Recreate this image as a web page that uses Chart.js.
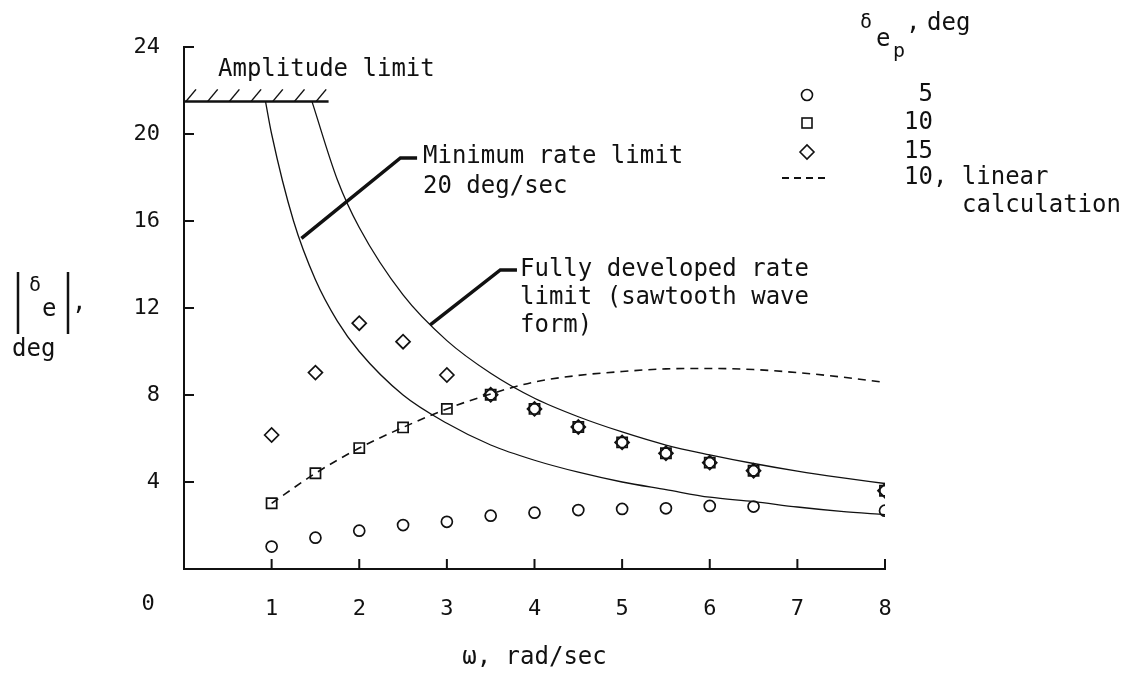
<!DOCTYPE html>
<html><head><meta charset="utf-8">
<script src="https://cdn.jsdelivr.net/npm/chart.js@4.4.0/dist/chart.umd.min.js"></script>
<style>html,body{margin:0;padding:0;background:#fff}#wrap{width:1138px;height:679px}</style>
</head><body><div id="wrap"><canvas id="c" width="1138" height="679"></canvas></div>
<script>
// ---- data ----
const omega   = [1, 1.5, 2, 2.5, 3, 3.5, 4, 4.5, 5, 5.5, 6, 6.5, 8];
const amp5    = [1.03, 1.44, 1.76, 2.02, 2.17, 2.45, 2.59, 2.71, 2.76, 2.79, 2.9, 2.87, 2.68];
const amp10   = [3.02, 4.4, 5.56, 6.51, 7.36, 8.01, 7.36, 6.53, 5.82, 5.32, 4.89, 4.52, 3.6];
const amp15   = [6.16, 9.03, 11.3, 10.45, 8.92, 8.01, 7.36, 6.53, 5.82, 5.32, 4.89, 4.52, 3.6];
const linOmega = [1, 1.5, 2, 2.5, 3, 3.5, 4, 4.5, 5, 5.5, 6, 6.5, 7, 7.5, 8];
const lin10    = [3.02, 4.4, 5.56, 6.51, 7.36, 8.05, 8.6, 8.9, 9.08, 9.2, 9.22, 9.17, 9.03, 8.83, 8.58];
const minRateOmega = [0.93, 1.0, 1.25, 1.5, 1.75, 2.0, 2.5, 3.0, 3.5, 4.0, 4.5, 5.0, 5.5, 6.0, 6.5, 7.0, 7.5, 8.0];
const minRate      = [21.5, 20.0, 16.0, 13.3, 11.4, 10.0, 8.0, 6.7, 5.7, 5.0, 4.45, 4.0, 3.65, 3.3, 3.1, 2.85, 2.65, 2.5];
const fullRateOmega = [1.46, 1.75, 2.0, 2.5, 3.0, 3.5, 4.0, 4.5, 5.0, 5.5, 6.0, 6.5, 7.0, 7.5, 8.0];
const fullRate      = [21.5, 17.9, 15.7, 12.6, 10.5, 9.0, 7.85, 7.0, 6.3, 5.7, 5.25, 4.85, 4.5, 4.2, 3.93];
const ampLimitOmega = [0, 1.65];
const ampLimit      = [21.5, 21.5];
const leaderMinOmega  = [1.34, 2.47, 2.66];
const leaderMin       = [15.2, 18.9, 18.9];
const leaderFullOmega = [2.81, 3.61, 3.8];
const leaderFull      = [11.22, 13.75, 13.75];
const xTicks = [1, 2, 3, 4, 5, 6, 7, 8];
const yTicks = [4, 8, 12, 16, 20, 24];
const seriesLabels = ['5', '10', '15', '10, linear'];

const INK = '#111';
const MONO = '"DejaVu Sans Mono", "Liberation Mono", monospace';
const pts = (xs, ys) => xs.map((x, i) => ({x, y: ys[i]}));

const lineDs = (data, width, extra) => Object.assign({
  type: 'line', data, borderColor: INK, borderWidth: width, pointRadius: 0,
  fill: false, showLine: true, cubicInterpolationMode: 'monotone'
}, extra || {});

const markerDs = (data, style, r) => ({
  type: 'scatter', data, pointStyle: style, pointRadius: r,
  pointBorderColor: INK, pointBackgroundColor: 'rgba(0,0,0,0)', pointBorderWidth: 1.7,
  showLine: false
});

const decor = {
  id: 'decor',
  afterDatasetsDraw(chart) {
    const ctx = chart.ctx, xs = chart.scales.x, ys = chart.scales.y;
    const x0 = xs.getPixelForValue(0), y0 = ys.getPixelForValue(0);
    ctx.save();
    ctx.strokeStyle = INK; ctx.fillStyle = INK; ctx.lineCap = 'butt';
    // inward tick marks
    ctx.lineWidth = 2;
    yTicks.forEach(v => {
      const y = ys.getPixelForValue(v);
      ctx.beginPath(); ctx.moveTo(x0, y); ctx.lineTo(x0 + 10, y); ctx.stroke();
    });
    xTicks.forEach(v => {
      const x = xs.getPixelForValue(v);
      ctx.beginPath(); ctx.moveTo(x, y0); ctx.lineTo(x, y0 - 10); ctx.stroke();
    });
    // hatch on amplitude limit
    const ya = ys.getPixelForValue(ampLimit[0]);
    ctx.lineWidth = 1.5;
    for (let i = 0; i < 7; i++) {
      const hx = x0 + 2 + i * 21.7;
      ctx.beginPath(); ctx.moveTo(hx, ya); ctx.lineTo(hx + 10, ya - 12); ctx.stroke();
    }
    // texts
    ctx.textBaseline = 'middle'; ctx.textAlign = 'left';
    ctx.font = '24px ' + MONO;
    ctx.fillText('Amplitude limit', 218, 70);
    ctx.fillText('Minimum rate limit', 423, 157);
    ctx.fillText('20 deg/sec', 423, 187);
    ctx.fillText('Fully developed rate', 520, 270);
    ctx.fillText('limit (sawtooth wave', 520, 298);
    ctx.fillText('form)', 520, 326);
    // origin label
    ctx.font = '22px ' + MONO; ctx.textAlign = 'center';
    ctx.fillText('0', 148, 604);
    // y axis title |δe|, deg
    ctx.lineWidth = 2.5;
    ctx.beginPath(); ctx.moveTo(18, 272); ctx.lineTo(18, 334); ctx.stroke();
    ctx.beginPath(); ctx.moveTo(68, 272); ctx.lineTo(68, 334); ctx.stroke();
    ctx.textAlign = 'left';
    ctx.font = '20px ' + MONO; ctx.fillText('δ', 29, 286);
    ctx.font = '24px ' + MONO; ctx.fillText('e', 42, 310);
    ctx.fillText(',', 72, 304);
    ctx.fillText('deg', 12, 350);
    // legend title
    ctx.font = '20px ' + MONO; ctx.fillText('δ', 860, 23);
    ctx.font = '24px ' + MONO; ctx.fillText('e', 876, 40);
    ctx.font = '20px ' + MONO; ctx.fillText('p', 893, 52);
    ctx.font = '24px ' + MONO; ctx.fillText(',', 906, 24); ctx.fillText('deg', 927, 24);
    // legend entries
    const lx = 807, rows = [95, 123, 152, 178];
    ctx.lineWidth = 1.6;
    ctx.beginPath(); ctx.arc(lx, rows[0], 5.5, 0, Math.PI * 2); ctx.stroke();
    ctx.strokeRect(lx - 5, rows[1] - 5, 10, 10);
    ctx.beginPath(); ctx.moveTo(lx - 7, rows[2]); ctx.lineTo(lx, rows[2] - 7); ctx.lineTo(lx + 7, rows[2]); ctx.lineTo(lx, rows[2] + 7); ctx.closePath(); ctx.stroke();
    ctx.setLineDash([7, 5]); ctx.lineWidth = 1.8;
    ctx.beginPath(); ctx.moveTo(782, rows[3]); ctx.lineTo(830, rows[3]); ctx.stroke();
    ctx.setLineDash([]);
    ctx.font = '24px ' + MONO;
    ctx.textAlign = 'right';
    ctx.fillText(seriesLabels[0], 933, rows[0]);
    ctx.fillText(seriesLabels[1], 933, rows[1]);
    ctx.fillText(seriesLabels[2], 933, rows[2]);
    ctx.textAlign = 'left';
    ctx.fillText(seriesLabels[3], 904, rows[3]);
    ctx.fillText('calculation', 962, rows[3] + 28);
    ctx.restore();
  }
};

new Chart(document.getElementById('c'), {
  type: 'scatter',
  data: {
    datasets: [
      lineDs(pts(minRateOmega, minRate), 1.3),
      lineDs(pts(fullRateOmega, fullRate), 1.3),
      lineDs(pts(linOmega, lin10), 1.6, {borderDash: [8, 6]}),
      lineDs(pts(ampLimitOmega, ampLimit), 2.5, {cubicInterpolationMode: 'default', tension: 0}),
      lineDs(pts(leaderMinOmega, leaderMin), 3.5, {cubicInterpolationMode: 'default', tension: 0}),
      lineDs(pts(leaderFullOmega, leaderFull), 3.5, {cubicInterpolationMode: 'default', tension: 0}),
      markerDs(pts(omega, amp5), 'circle', 5.5),
      markerDs(pts(omega, amp10), 'rect', 7.2),
      markerDs(pts(omega, amp15), 'rectRot', 7)
    ]
  },
  options: {
    responsive: false, animation: false, devicePixelRatio: 1,
    layout: {padding: {top: 47, right: 253, left: 0, bottom: 0}},
    plugins: {legend: {display: false}, tooltip: {enabled: false}},
    scales: {
      x: {
        type: 'linear', min: 0, max: 8,
        afterFit: s => { s.height = 110; },
        afterBuildTicks: s => { s.ticks = xTicks.map(v => ({value: v})); },
        ticks: {color: INK, font: {family: MONO, size: 22}, padding: 27, maxRotation: 0, autoSkip: false},
        grid: {drawOnChartArea: false, drawTicks: false},
        border: {display: true, color: INK, width: 2},
        title: {display: true, text: 'ω, rad/sec', color: INK, font: {family: MONO, size: 24}, padding: {top: 0, bottom: 7}}
      },
      y: {
        type: 'linear', min: 0, max: 24,
        afterFit: s => { s.width = 184; },
        afterBuildTicks: s => { s.ticks = yTicks.map(v => ({value: v})); },
        ticks: {color: INK, font: {family: MONO, size: 22}, padding: 24, autoSkip: false},
        grid: {drawOnChartArea: false, drawTicks: false},
        border: {display: true, color: INK, width: 2}
      }
    }
  },
  plugins: [decor]
});
</script></body></html>
